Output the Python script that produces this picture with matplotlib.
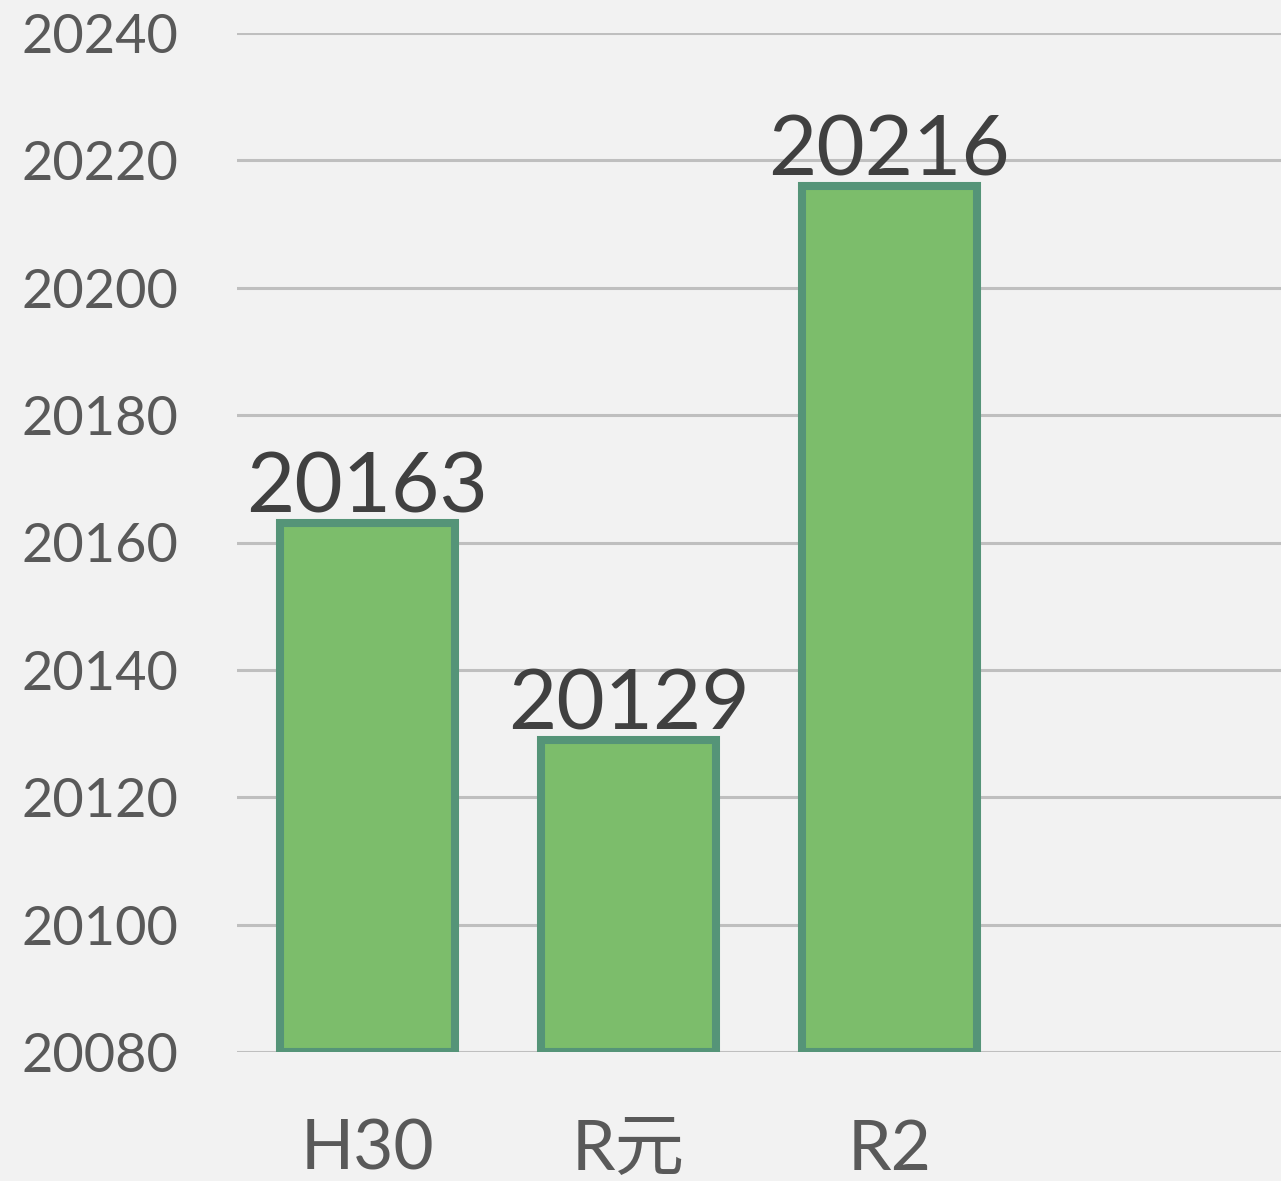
import matplotlib
matplotlib.use('Agg')
import matplotlib.pyplot as plt

# data
categories = ['H30', 'R元', 'R2', '']
values = [20163, 20129, 20216, None]
y_ticks = [20080, 20100, 20120, 20140, 20160, 20180, 20200, 20220, 20240]

fonts = ['Lato', 'Noto Sans CJK JP', 'DejaVu Sans']
plt.rcParams['font.family'] = fonts

fig = plt.figure(figsize=(12.81, 11.81), dpi=100)
fig.patch.set_facecolor('#f2f2f2')
ax = fig.add_axes([237 / 1281, 1 - 1052 / 1181, 1 - 237 / 1281, (1052 - 33) / 1181])
ax.set_facecolor('#f2f2f2')

xs = [i for i, v in enumerate(values) if v is not None]
vals = [v for v in values if v is not None]
base = y_ticks[0]
bars = ax.bar(xs, [v - base for v in vals], bottom=base, width=0.67,
              color='#7cbd6b', edgecolor='#559478', linewidth=5.8, zorder=3)

# value labels above each bar
for b, v in zip(bars, vals):
    ax.text(b.get_x() + b.get_width() / 2, v + 1.7, str(v), ha='center', va='baseline',
            fontsize=60, color='#404040', zorder=4)

ax.set_xlim(-0.5, len(categories) - 0.5)
ax.set_ylim(y_ticks[0], y_ticks[-1])
ax.set_yticks(y_ticks)
ax.set_yticklabels([str(t) for t in y_ticks], fontsize=39, color='#595959')
ax.set_xticks(range(len(categories)))
ax.set_xticklabels(categories, fontsize=50, color='#595959')
ax.tick_params(axis='y', length=0, pad=42)
ax.tick_params(axis='x', length=0, pad=48)

ax.grid(axis='y', color='#bfbfbf', linewidth=2.2, zorder=0)
ax.set_axisbelow(True)
for s in ax.spines.values():
    s.set_visible(False)

plt.savefig('out.png', dpi=100, facecolor=fig.get_facecolor())
